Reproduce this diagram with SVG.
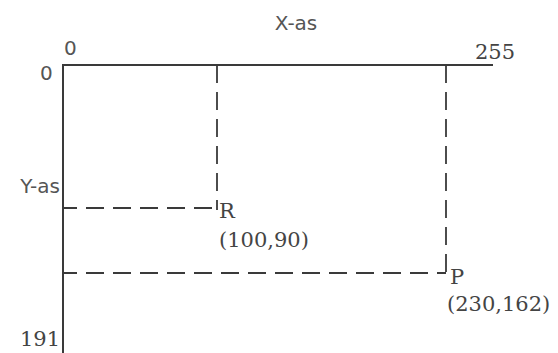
<svg xmlns="http://www.w3.org/2000/svg" width="558" height="353" viewBox="0 0 558 353">
<style>
.axis{stroke:#3a3a3a;stroke-width:2;fill:none}
.dash{stroke:#3a3a3a;stroke-width:1.8;fill:none;stroke-dasharray:18 9}
.sans{font-family:"DejaVu Sans",Verdana,sans-serif;font-size:20px;fill:#555}
.serif{font-family:"DejaVu Serif","Liberation Serif",serif;font-size:21px;fill:#444}
</style>
<rect width="558" height="353" fill="#fff"/>
<g id="axes">
<path class="axis" d="M63 65 H493 M63 64 V353"/>
</g>
<g id="connectors">
<path class="dash" d="M217 65 V210"/>
<path class="dash" d="M63 208 H217" style="stroke-dashoffset:4"/>
<path class="dash" d="M446 65 V275"/>
<path class="dash" d="M63 273 H446" style="stroke-dashoffset:4"/>
</g>
<g id="labels">
<text class="sans" x="296" y="30" text-anchor="middle">X-as</text>
<text class="sans" x="64" y="55">0</text>
<text class="sans" x="40" y="80">0</text>
<text class="serif" x="475" y="59">255</text>
<text class="sans" x="60" y="193" text-anchor="end">Y-as</text>
<text class="serif" x="20" y="346">191</text>
</g>
<g id="R">
<text class="serif" x="219" y="218">R</text>
<text class="serif" x="219" y="247">(100,90)</text>
</g>
<g id="P">
<text class="serif" x="450" y="284">P</text>
<text class="serif" x="447" y="311">(230,162)</text>
</g>
</svg>
